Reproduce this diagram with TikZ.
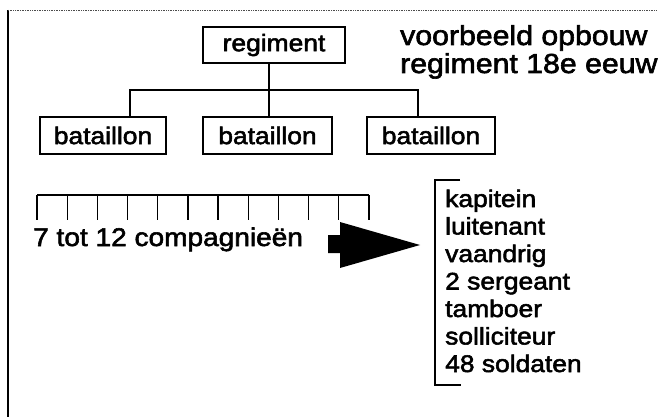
\documentclass[tikz,border=0pt]{standalone}
\usepackage{fontspec}
\setmainfont{Liberation Sans}[FakeStretch=1.1,FakeBold=2.2]
\begin{document}
\begin{tikzpicture}[x=1pt,y=-1pt,
  unitbox/.style={draw,line width=1.4pt,inner sep=0pt,font=\fontsize{24}{28}\selectfont},
  conn/.style={line width=1.3pt},
  listline/.style={anchor=base west,inner sep=0pt,font=\fontsize{24}{28}\selectfont},
  titleline/.style={anchor=base west,inner sep=0pt,font=\fontsize{27.5}{30}\selectfont}]
\useasboundingbox (0,0) rectangle (661,417);
% frame
\draw[line width=2.4pt] (8,10) -- (8,417);
\draw[line width=0.7pt,densely dotted,black!70] (8,10) -- (657,10);
% title
\node[titleline] (t1) at (400,45) {voorbeeld opbouw};
\node[titleline] (t2) at (400,73) {regiment 18e eeuw};
% hierarchy
\node[unitbox,minimum width=142pt,minimum height=36pt] (reg) at (274,45) {regiment};
\node[unitbox,minimum width=126pt,minimum height=37pt] (b1) at (103,135.5) {bataillon};
\node[unitbox,minimum width=129pt,minimum height=37pt] (b2) at (267.5,135.5) {bataillon};
\node[unitbox,minimum width=128pt,minimum height=37pt] (b3) at (431,135.5) {bataillon};
\coordinate (busL) at (130,90);
\coordinate (busM) at (269,90);
\coordinate (busR) at (418,90);
\draw[conn] (busM |- reg.south) -- (busM |- b2.north);
\draw[conn] (busL |- b1.north) -- (busL) -- (busR) -- (busR |- b3.north);
% ruler
\draw[conn] (37,195) -- (369,195);
\foreach \i in {0,...,11} {
  \draw[conn] ({37+\i*30.18},195) -- ({37+\i*30.18},220);
}
\node[anchor=base west,inner sep=0pt,font=\fontsize{25.5}{28}\selectfont] (comp) at (33,246) {7 tot 12 compagnieën};
% big arrow
\fill (328,235) -- (340,235) -- (340,222) -- (420,245) -- (340,268) -- (340,253) -- (328,253) -- cycle;
% bracket
\coordinate (brT) at (435,180);
\coordinate (brB) at (435,385);
\draw[line width=1.1pt] (460,180) -- (brT) -- (brB) -- (461,385);
% list
\node[listline] (l1) at (445,207) {kapitein};
\node[listline] (l2) at (445,234.5) {luitenant};
\node[listline] (l3) at (445,262) {vaandrig};
\node[listline] (l4) at (445,289.5) {2 sergeant};
\node[listline] (l5) at (445,317) {tamboer};
\node[listline] (l6) at (445,344.5) {solliciteur};
\node[listline] (l7) at (445,372) {48 soldaten};
\end{tikzpicture}
\end{document}
